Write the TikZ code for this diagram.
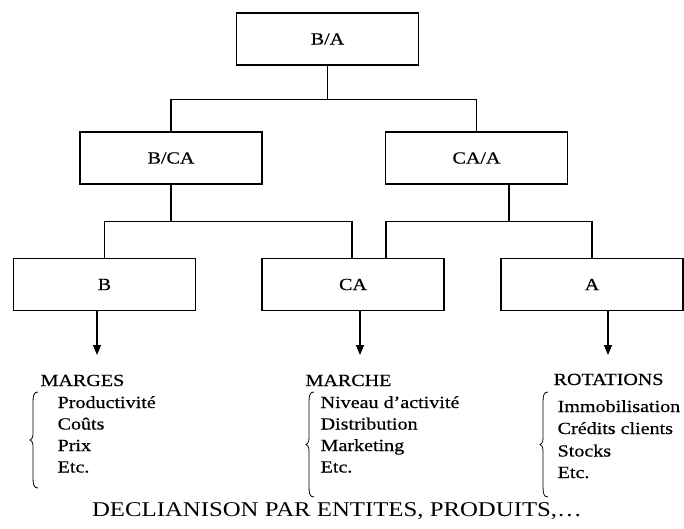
\documentclass[tikz,border=0pt]{standalone}
\usepackage{fontspec}
\setmainfont{Liberation Serif}[FakeStretch=1.18,FakeBold=0.5]
\newfontfamily\declfont{Liberation Serif}[FakeStretch=1.18]
\usetikzlibrary{arrows.meta}
\newcommand{\Brc}[4]{%
  \draw[bracestyle] ({#1+8},#2) .. controls ({#1+4},#2) and ({#1+3},{#2+3}) .. ({#1+3},{#2+10})
    -- ({#1+3},{#4-6}) .. controls ({#1+3},{#4-2}) and ({#1+1},#4) .. (#1,#4)
    .. controls ({#1+1},#4) and ({#1+3},{#4+2}) .. ({#1+3},{#4+6})
    -- ({#1+3},{#3-10}) .. controls ({#1+3},{#3-3}) and ({#1+4},#3) .. ({#1+8},#3);}
\begin{document}
\begin{tikzpicture}[x=1pt,y=-1pt,line width=1.3pt,
  box/.style={draw, minimum width=182pt, minimum height=52pt, inner sep=0pt, font=\fontsize{17}{20}\selectfont},
  arr/.style={-{Triangle[length=10pt,width=8pt]}},
  lbl/.style={anchor=base west, inner sep=0pt, font=\fontsize{17}{20}\selectfont},
  bracestyle/.style={line width=0.8pt}]
\useasboundingbox (0,0) rectangle (684,529);
% boxes
\node[box] (BA) at (327.5,39) {B/A};
\node[box] (BCA) at (171,158) {B/CA};
\node[box] (CAA) at (476.5,158) {CA/A};
\node[box] (B) at (104.5,284.5) {B};
\node[box] (CA) at (353,284.5) {CA};
\node[box] (A) at (592,284.5) {A};
% tree connectors
\draw (BA.south) -- ++(0,34) -| (BCA.north);
\draw (BA.south) -- ++(0,34) -| (CAA.north);
\draw (BCA.south) -- ++(0,37) -| (B.north);
\draw (BCA.south) -- ++(0,37) -| ([xshift=-1pt]CA.north);
\draw ([xshift=32.5pt]CAA.south) -- ++(0,37) -| ([xshift=33pt]CA.north);
\draw ([xshift=32.5pt]CAA.south) -- ++(0,37) -| (A.north);
% arrows
\coordinate (bEnd) at (97,355);
\coordinate (caEnd) at (360,355);
\coordinate (aEnd) at (608,355);
\draw[arr] (B.south -| bEnd) -- (bEnd);
\draw[arr] (CA.south -| caEnd) -- (caEnd);
\draw[arr] (A.south -| aEnd) -- (aEnd);
% lists
\node[lbl] (marges) at (40,386) {MARGES};
\node[lbl] (m1) at (57,408) {Productivité};
\node[lbl] (m2) at (57,429.5) {Coûts};
\node[lbl] (m3) at (57,451) {Prix};
\node[lbl] (m4) at (57,472.5) {Etc.};
\Brc{30}{392}{488}{440}
\node[lbl] (marche) at (305,386) {MARCHE};
\node[lbl] (c1) at (320,408) {Niveau d’activité};
\node[lbl] (c2) at (320,429.5) {Distribution};
\node[lbl] (c3) at (320,451) {Marketing};
\node[lbl] (c4) at (320,472.5) {Etc.};
\Brc{306}{392}{497}{444.5}
\node[lbl] (rot) at (553,385) {ROTATIONS};
\node[lbl] (r1) at (557,412) {Immobilisation};
\node[lbl] (r2) at (557,434) {Crédits clients};
\node[lbl] (r3) at (557,456.5) {Stocks};
\node[lbl] (r4) at (557,478) {Etc.};
\Brc{540}{392}{497}{444.5}
% bottom line
\node[anchor=base, inner sep=0pt, font=\declfont\fontsize{21}{24}\selectfont] (decl) at (337,516) {DECLIANISON PAR ENTITES, PRODUITS,…};
\end{tikzpicture}
\end{document}
